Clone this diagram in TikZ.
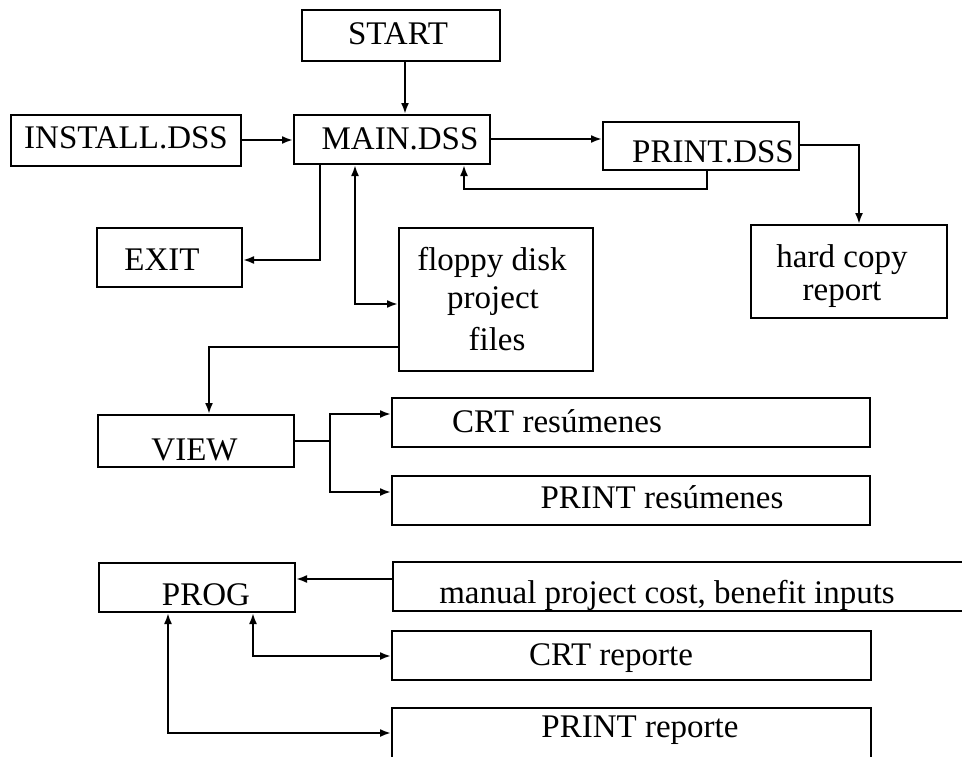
\documentclass[tikz,border=0pt]{standalone}
\usepackage{fontspec}
\setmainfont{Liberation Serif}
\usetikzlibrary{arrows.meta}
\begin{document}
\begin{tikzpicture}[x=1pt,y=-1pt,
  box/.style={draw, line width=2pt, inner sep=0pt},
  txt/.style={font=\fontsize{33}{40}\selectfont, inner sep=0pt, anchor=base},
  conn/.style={line width=2pt},
  arr/.style={conn,-{Latex[length=11pt,width=8pt]}},
  biarr/.style={conn,{Latex[length=11pt,width=8pt]}-{Latex[length=11pt,width=8pt]}}]
\useasboundingbox (0,0) rectangle (962,756);
\clip (0,0) rectangle (962,756);
\fill[white] (0,0) rectangle (962,756);

% boxes
\node[box, minimum width=198pt, minimum height=51pt] (start) at (401,35.5) {};
\node[box, minimum width=196pt, minimum height=49pt] (main) at (392,139.5) {};
\node[box, minimum width=230pt, minimum height=51pt] (install) at (126,140.5) {};
\node[box, minimum width=196pt, minimum height=48pt] (print) at (701,146) {};
\node[box, minimum width=196pt, minimum height=93pt] (hard) at (849,271.5) {};
\node[box, minimum width=145pt, minimum height=59pt] (exit) at (169.5,257.5) {};
\node[box, minimum width=194pt, minimum height=143pt] (floppy) at (496,299.5) {};
\node[box, minimum width=196pt, minimum height=52pt] (view) at (196,441) {};
\node[box, minimum width=478pt, minimum height=49pt] (crtres) at (631,422.5) {};
\node[box, minimum width=478pt, minimum height=49pt] (printres) at (631,500.5) {};
\node[box, minimum width=196pt, minimum height=49pt] (prog) at (197,587.5) {};
\node[box, minimum width=607pt, minimum height=49pt] (manual) at (696.5,586.5) {};
\node[box, minimum width=479pt, minimum height=49pt] (crtrep) at (631.5,655.5) {};
\node[box, minimum width=479pt, minimum height=62pt] (printrep) at (631.5,739) {};

% texts
\node[txt] (start-t) at (398,44) {START};
\node[txt] (main-t) at (400,149) {MAIN.DSS};
\node[txt] (install-t) at (126,148) {INSTALL.DSS};
\node[txt] (print-t) at (713,162) {PRINT.DSS};
\node[txt] (exit-t) at (162,270) {EXIT};
\node[txt] (floppy-t1) at (492,270) {floppy disk};
\node[txt] (floppy-t2) at (493,308) {project};
\node[txt] (floppy-t3) at (497,350) {files};
\node[txt] (hard-t1) at (842,267) {hard copy};
\node[txt] (hard-t2) at (842,300) {report};
\node[txt] (view-t) at (194.5,460) {VIEW};
\node[txt] (crtres-t) at (557,432) {CRT resúmenes};
\node[txt] (printres-t) at (662,508) {PRINT resúmenes};
\node[txt] (prog-t) at (206,605) {PROG};
\node[txt] (manual-t) at (667,603) {manual project cost, benefit inputs};
\node[txt] (crtrep-t) at (611,665) {CRT reporte};
\node[txt] (printrep-t) at (640,737) {PRINT reporte};

% connectors
\draw[arr] (405,0 |- start.south) -- (405,0 |- main.north);
\draw[arr] (install.east |- 0,140) -- (main.west |- 0,140);
\draw[arr] (main.east |- 0,139) -- (print.west |- 0,139);
\draw[arr] (707,0 |- print.south) -- (707,189) -- (464,189) -- (464,0 |- main.south);
\draw[arr] (print.east |- 0,145) -| (859,0 |- hard.north);
\draw[arr] (320,0 |- main.south) |- (exit.east |- 0,260);
\draw[biarr] (355,0 |- main.south) |- (floppy.west |- 0,304);
\draw[arr] (floppy.west |- 0,347) -| (209,0 |- view.north);
\coordinate (vj) at (330,441);
\draw[conn] (view.east |- vj) -- (vj);
\draw[arr] (vj) |- (crtres.west |- 0,414);
\draw[arr] (vj) |- (printres.west |- 0,492);
\draw[arr] (manual.west |- 0,579) -- (prog.east |- 0,579);
\draw[biarr] (253,0 |- prog.south) |- (crtrep.west |- 0,656);
\draw[biarr] (168,0 |- prog.south) |- (printrep.west |- 0,733);
\end{tikzpicture}
\end{document}
